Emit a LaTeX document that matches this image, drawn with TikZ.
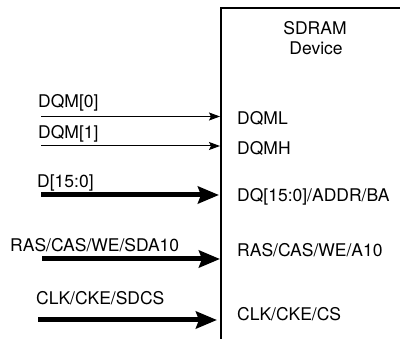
\documentclass[tikz,border=0pt]{standalone}
\usepackage{fontspec}
\setmainfont{TeX Gyre Heros}
\usetikzlibrary{arrows.meta}
\begin{document}
\begin{tikzpicture}[x=1pt,y=-1pt,
  lbl/.style={font=\fontsize{17.5}{20}\selectfont, inner sep=0pt},
  thin/.style={line width=1pt,-{Stealth[length=11pt,width=8pt,inset=2pt]}},
  thick/.style={line width=5pt,-{Stealth[length=21pt,width=17pt,inset=3pt]}}]
\useasboundingbox (0,0) rectangle (400,339);
\draw[line width=1.6pt] (221,340) -- (221,8) -- (402,8);
\node[lbl, anchor=base] (t1) at (315,35) {SDRAM};
\node[lbl, anchor=base] (t2) at (316,55) {Device};
% left coordinates
\coordinate (s0) at (41,116.5);
\coordinate (s1) at (41,146);
\coordinate (s2) at (41,195);
\coordinate (s3) at (42,259);
\coordinate (s4) at (38,320);
\coordinate (e0) at (220,116.5);
\coordinate (e1) at (220,146);
\coordinate (e2) at (219,195);
\coordinate (e3) at (220,259);
\coordinate (e4) at (217,320);
\draw[thin] (s0) -- (e0);
\draw[thin] (s1) -- (e1);
\draw[thick] (s2) -- (e2);
\draw[thick] (s3) -- (e3);
\draw[thick] (s4) -- (e4);
\node[lbl, anchor=base west] (l0) at (38,108) {DQM[0]};
\node[lbl, anchor=base west] (l1) at (38,139) {DQM[1]};
\node[lbl, anchor=base west] (l2) at (37,188) {D[15:0]};
\node[lbl, anchor=base west] (l3) at (10,252) {RAS/CAS/WE/SDA10};
\node[lbl, anchor=base west] (l4) at (36,305) {CLK/CKE/SDCS};
\node[lbl, anchor=base west] (r0) at (237,125) {DQML};
\node[lbl, anchor=base west] (r1) at (237,155) {DQMH};
\node[lbl, anchor=base west] (r2) at (237,202) {DQ[15:0]/ADDR/BA};
\node[lbl, anchor=base west] (r3) at (237,257) {RAS/CAS/WE/A10};
\node[lbl, anchor=base west] (r4) at (237,321) {CLK/CKE/CS};
\end{tikzpicture}
\end{document}
